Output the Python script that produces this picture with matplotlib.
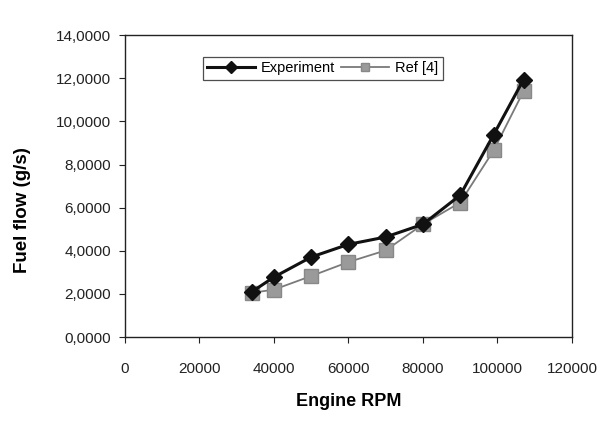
import matplotlib
matplotlib.use('Agg')
import matplotlib.pyplot as plt
from matplotlib.ticker import FuncFormatter

# data (fuel flow in g/s, decimal comma in labels)
rpm = [34000, 40000, 50000, 60000, 70000, 80000, 90000, 99000, 107000]
experiment = [2.09, 2.78, 3.71, 4.30, 4.64, 5.23, 6.58, 9.39, 11.94]
ref4 = [2.05, 2.20, 2.83, 3.48, 4.02, 5.23, 6.24, 8.66, 11.40]

plt.rcParams['font.family'] = ['Liberation Sans', 'DejaVu Sans']

fig = plt.figure(figsize=(6.15, 4.24), dpi=100)
ax = fig.add_axes([0.203, 0.205, 0.727, 0.712])

ax.plot(rpm, experiment, '-', color='#111111', linewidth=2.2,
        marker='D', markersize=8, markerfacecolor='#111111',
        markeredgecolor='#111111', label='Experiment', zorder=3)
ax.plot(rpm, ref4, '-', color='#7a7a7a', linewidth=1.3,
        marker='s', markersize=10, markerfacecolor='#9a9a9a',
        markeredgecolor='#888888', label='Ref [4]', zorder=2)

ax.set_xlim(0, 120000)
ax.set_ylim(0, 14)
ax.set_xticks(range(0, 120001, 20000))
ax.set_yticks(range(0, 15, 2))
ax.yaxis.set_major_formatter(FuncFormatter(lambda v, p: f'{v:.4f}'.replace('.', ',')))
ax.tick_params(axis='both', labelsize=11, colors='#222222', length=4, direction='out')
ax.tick_params(axis='x', pad=14)
ax.tick_params(axis='y', pad=6)
for s in ax.spines.values():
    s.set_color('#222222')
    s.set_linewidth(1.0)

ax.set_xlabel('Engine RPM', fontsize=13, fontweight='bold', labelpad=12)
ax.set_ylabel('Fuel flow (g/s)', fontsize=13.5, fontweight='bold')
ax.yaxis.set_label_coords(-0.21, 0.42)

leg = ax.legend(loc='upper left', bbox_to_anchor=(0.1745, 0.928), ncol=2,
                fontsize=10.5, frameon=True, fancybox=False, handlelength=3.3,
                columnspacing=0.4, handletextpad=0.4, borderpad=0.3,
                borderaxespad=0)
leg.get_frame().set_edgecolor('#222222')
leg.get_frame().set_linewidth(0.9)
for h in leg.legend_handles:
    h.set_markersize(6)

fig.savefig('out.png', dpi=100)
